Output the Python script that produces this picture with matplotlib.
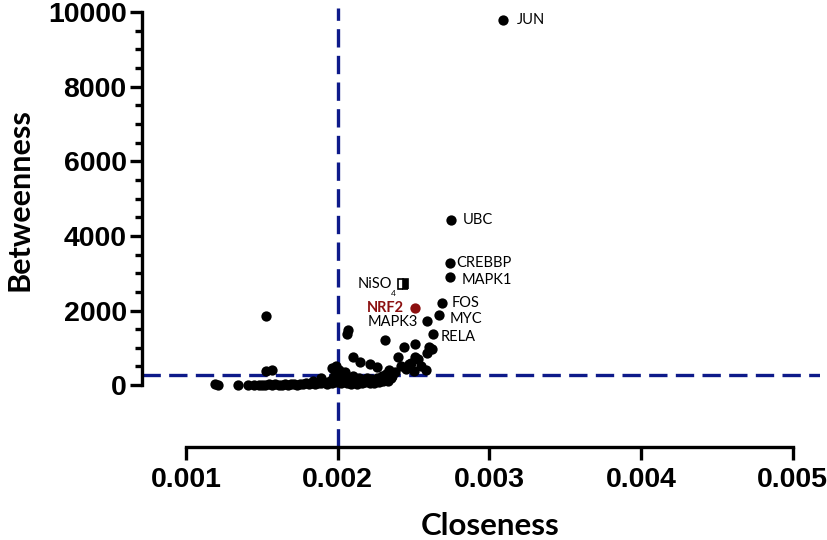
import matplotlib
matplotlib.use('Agg')
import matplotlib.pyplot as plt
from matplotlib.ticker import FixedLocator

# labelled hub genes
hub_names = ['JUN', 'UBC', 'CREBBP', 'MAPK1', 'FOS', 'MYC', 'MAPK3', 'RELA']
hub_close = [0.00309, 0.00275, 0.002737, 0.002743, 0.00269, 0.00267, 0.002586, 0.002625]
hub_betw = [9800, 4430, 3280, 2900, 2190, 1890, 1730, 1360]

# NRF2 and NiSO4
nrf2_close, nrf2_betw = 0.002507, 2080
niso_close, niso_betw = 0.002428, 2720

# remaining network nodes
other_close = [0.00119, 0.00121, 0.00134, 0.00141, 0.00145, 0.00148, 0.00150, 0.00152,
               0.00153, 0.00153, 0.00157, 0.00155, 0.00157, 0.00159, 0.00161, 0.00163,
               0.00165, 0.00167, 0.00169, 0.00171, 0.00173, 0.00175, 0.00177, 0.00179,
               0.00181, 0.00183, 0.00185, 0.00187, 0.00189, 0.00191, 0.00193, 0.00195,
               0.00196, 0.00197, 0.00198, 0.00199, 0.00200, 0.00201, 0.00202, 0.00203,
               0.00204, 0.00205, 0.00206, 0.00207, 0.00208, 0.00209, 0.00210, 0.00211,
               0.00212, 0.00213, 0.00214, 0.00215, 0.00216, 0.00217, 0.00218, 0.00219,
               0.00220, 0.00221, 0.00222, 0.00223, 0.00224, 0.00225, 0.00226, 0.00227,
               0.00228, 0.00229, 0.00230, 0.00231, 0.00232, 0.00233, 0.00234, 0.00235,
               0.00207, 0.00206, 0.00210, 0.00215, 0.00221, 0.00226, 0.00231, 0.00240,
               0.00244, 0.00251, 0.00251, 0.00247, 0.00253, 0.00260, 0.00259, 0.00262,
               0.00238, 0.00242, 0.00245, 0.00248, 0.00250, 0.00255, 0.00258, 0.00236,
               0.00196, 0.00199, 0.00184, 0.00189]
other_betw = [20, 10, 15, 5, 10, 5, 15, 8,
              1850, 380, 400, 20, 10, 25, 5, 15,
              30, 10, 20, 35, 15, 40, 25, 50,
              30, 60, 20, 70, 45, 90, 40, 120,
              60, 180, 300, 90, 150, 400, 70, 220,
              120, 350, 60, 180, 100, 40, 250, 80,
              150, 30, 200, 100, 60, 130, 80, 200,
              110, 60, 160, 90, 50, 130, 200, 80,
              150, 250, 100, 180, 300, 120, 400, 200,
              1490, 1360, 750, 610, 560, 480, 1200, 750,
              1010, 1090, 750, 560, 700, 1010, 850, 960,
              350, 500, 420, 600, 380, 500, 400, 250,
              450, 520, 120, 200]

line_col = '#0d1a8a'

fig = plt.figure(figsize=(8.27, 5.40), dpi=100)
ax = fig.add_axes([0.1717, 0.172, 0.82, 0.813])

ax.scatter(other_close, other_betw, s=55, color='black', zorder=3, linewidths=0)
ax.scatter(hub_close, hub_betw, s=55, color='black', zorder=3, linewidths=0)
ax.scatter([nrf2_close], [nrf2_betw], s=55, color='#8b0f0f', zorder=3, linewidths=0)
ax.plot([niso_close], [niso_betw], marker='s', ms=7, fillstyle='right',
        color='black', markerfacecoloralt='white', mec='black', mew=1.2, zorder=4)

# cut-off lines
ax.axvline(0.002, color=line_col, lw=2.4, dashes=(5.5, 2.5), zorder=2)
ax.axhline(280, color=line_col, lw=2.4, dashes=(5.5, 2.5), zorder=2)

lab_font = dict(family='Lato', fontsize=10.5, va='center')
offs = {'JUN': (14, 0, 'left'), 'UBC': (11, 0, 'left'), 'CREBBP': (7, 0, 'left'),
        'MAPK1': (11, -3, 'left'), 'FOS': (9, 0, 'left'), 'MYC': (10, -4, 'left'),
        'MAPK3': (-9, -1, 'right'), 'RELA': (8, -3, 'left')}
for n, xv, yv in zip(hub_names, hub_close, hub_betw):
    dx, dy, ha = offs[n]
    ax.annotate(n, (xv, yv), xytext=(dx, dy), textcoords='offset pixels', ha=ha, **lab_font)
ax.annotate('NRF2', (nrf2_close, nrf2_betw), xytext=(-11, 0), textcoords='offset pixels',
            ha='right', color='#8b0f0f', fontweight='bold', **lab_font)
ax.annotate('NiSO', (niso_close, niso_betw), xytext=(-11, 0), textcoords='offset pixels',
            ha='right', **lab_font)
ax.annotate('4', (niso_close, niso_betw), xytext=(-9, -10), textcoords='offset pixels',
            ha='center', va='center', family='Lato', fontsize=6)

ax.set_xlim(0.00071, 0.00518)
ax.set_ylim(-1662, 10107)

ax.spines['top'].set_visible(False)
ax.spines['right'].set_visible(False)
ax.spines['left'].set_linewidth(2.4)
ax.spines['bottom'].set_linewidth(2.4)
ax.spines['left'].set_bounds(0, 10000)
ax.spines['bottom'].set_bounds(0.001, 0.005)

ax.set_xticks([0.001, 0.002, 0.003, 0.004, 0.005])
ax.set_xticklabels(['0.001', '0.002', '0.003', '0.004', '0.005'])
ax.set_yticks([0, 2000, 4000, 6000, 8000, 10000])
ax.yaxis.set_minor_locator(FixedLocator([v for v in range(500, 10000, 500) if v % 2000]))
ax.tick_params(axis='both', which='major', width=2.4, length=9, pad=2)
ax.tick_params(axis='x', which='major', pad=5)
ax.tick_params(axis='y', which='minor', width=2.4, length=5)
for t in ax.get_xticklabels() + ax.get_yticklabels():
    t.set_fontweight('bold')
    t.set_family('Liberation Sans')
    t.set_fontsize(20.5)

ax.set_xlabel('Closeness', family='Lato', fontweight='bold', fontsize=22.5)
ax.set_ylabel('Betweenness', family='Lato', fontweight='bold', fontsize=22)
ax.xaxis.set_label_coords(0.513, -0.148)
ax.yaxis.set_label_coords(-0.16, 0.565)

fig.savefig('out.png', dpi=100)
